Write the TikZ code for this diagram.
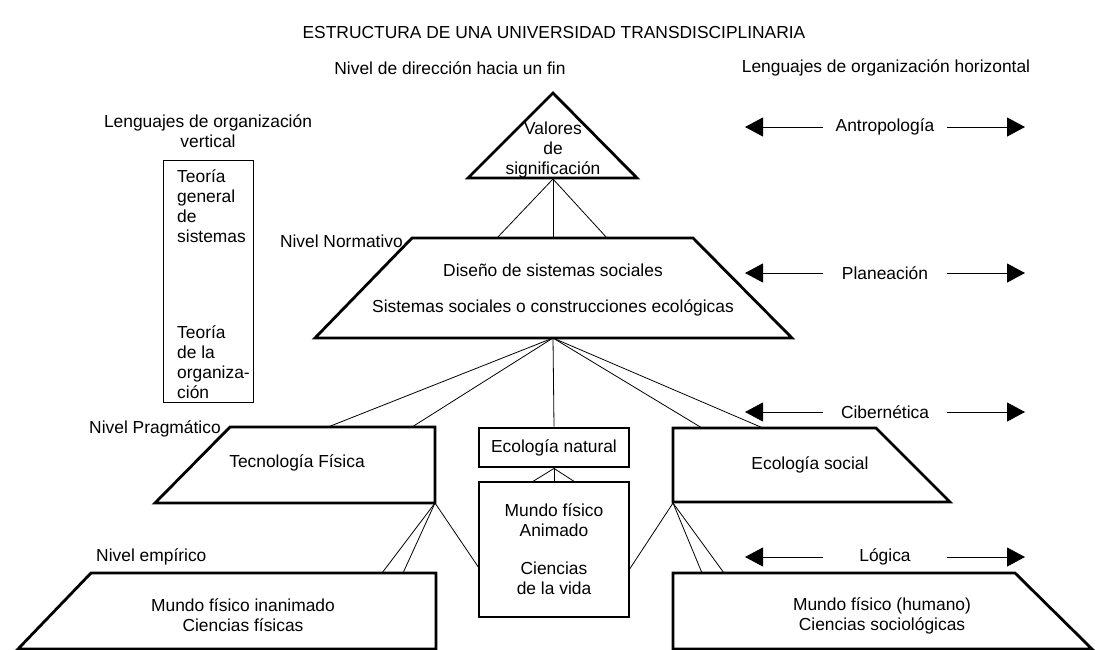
\documentclass[tikz,border=0pt]{standalone}
\usepackage{fontspec}
\setmainfont{Liberation Sans}
\usepackage{tikz}
\usetikzlibrary{arrows.meta,positioning}
\tikzset{
  lvl/.style={draw=black, line width=2.8pt, line join=miter},
  link/.style={draw=black, line width=0.8pt},
  txt/.style={inner sep=0pt, align=center, font=\fontsize{17.4}{20}\selectfont},
  txtl/.style={inner sep=0pt, align=left, font=\fontsize{17.4}{20}\selectfont},
  boxn/.style={rectangle, draw=black, line width=2.8pt, minimum width=150pt, inner sep=0pt, align=center, font=\fontsize{17.4}{20}\selectfont},
  vbox/.style={rectangle, draw=black, line width=0.9pt, minimum width=90pt, minimum height=242pt},
  lang/.style={draw=black, line width=1pt, -{Triangle[length=18pt,width=19pt]}},
}

\begin{document}
\begin{tikzpicture}[x=1pt,y=-1pt]
    \useasboundingbox (0,0) rectangle (1099,649);

    \node[txt] (title) at (554,33) {ESTRUCTURA DE UNA UNIVERSIDAD TRANSDISCIPLINARIA};
    \node[txt] (dir) at (450,68) {Nivel de dirección hacia un fin};
    \node[txt] (hor) at (886,68) {Lenguajes de organización horizontal};
    \node[txt] (ver) at (208,131) {Lenguajes de organización\\vertical};

    \node[vbox] (vert) at (208,281) {};
    \node[txtl,anchor=west] (tgs) at (177,206) {Teoría\\general\\de\\sistemas};
    \node[txtl,anchor=west] (torg) at (177,362) {Teoría\\de la\\organiza-\\ción};

    % nivel de direccion
    \draw[lvl] (553,93) -- (637,178) -- (468,178) -- cycle;
    \node[txt] (val) at (553,150) {Valores\\de\\significación};
    \coordinate (val-b) at (553,179);

    % nivel normativo
    \draw[lvl] (412,238) -- (693,238) -- (792,338) -- (315,338) -- cycle;
    \node[txt] (dis) at (553,270) {Diseño de sistemas sociales};
    \node[txt] (sis) at (553,308) {Sistemas sociales o construcciones ecológicas};
    \node[txt,anchor=east] (nnorm) at (403,241) {Nivel Normativo};
    \coordinate (norm-a) at (497,238);
    \coordinate (norm-b) at (553,238);
    \coordinate (norm-c) at (607,238);
    \coordinate (norm-s) at (553,338);

    % nivel pragmatico
    \draw[lvl] (230,427) -- (435,427) -- (435,503) -- (155,503) -- cycle;
    \node[txt] (tec) at (297,463) {Tecnología Física};
    \node[txt,anchor=west] (nprag) at (89,429) {Nivel Pragmático};
    \coordinate (tec-a) at (328,427);
    \coordinate (tec-b) at (412,427);
    \coordinate (tec-c) at (435,503);

    \node[boxn,minimum height=39pt] (econat) at (554,447.5) {Ecología natural};
    \node[boxn,minimum height=135pt] (anim) at (554,549.5) {Mundo físico\\Animado\\[18pt]Ciencias\\de la vida};
    \coordinate (anim-a) at (532,482);
    \coordinate (anim-c) at (575,482);
    \coordinate (anim-l) at (479,568);
    \coordinate (anim-r) at (629,570);

    \draw[lvl] (673,428) -- (876,428) -- (950,502) -- (673,502) -- cycle;
    \node[txt] (ecosoc) at (810,465) {Ecología social};
    \coordinate (soc-a) at (702,428);
    \coordinate (soc-b) at (763,428);
    \coordinate (soc-c) at (673,503);

    % nivel empirico
    \draw[lvl] (91,573) -- (436,573) -- (436,649) -- (18,649) -- cycle;
    \node[txt] (inan) at (243,615) {Mundo físico inanimado\\Ciencias físicas};
    \node[txt,anchor=west] (nemp) at (96,557) {Nivel empírico};
    \coordinate (inan-a) at (382,573);
    \coordinate (inan-b) at (403,573);

    \draw[lvl] (673,573) -- (1015,573) -- (1092,649) -- (673,649) -- cycle;
    \node[txt] (hum) at (882,616) {Mundo físico (humano)\\Ciencias sociológicas};
    \coordinate (hum-a) at (702,573);
    \coordinate (hum-b) at (724,573);

    \begin{scope}[every path/.style=link]
      \foreach \t in {norm-a,norm-b,norm-c} \path (val-b) -- (\t);
      \foreach \t in {tec-a,tec-b,econat.north,soc-a,soc-b} \path (norm-s) -- (\t);
      \foreach \t in {anim-a,anim.north,anim-c} \path (econat.south) -- (\t);
      \foreach \t in {inan-a,inan-b,anim-l} \path (tec-c) -- (\t);
      \foreach \t in {anim-r,hum-a,hum-b} \path (soc-c) -- (\t);
    \end{scope}

    \foreach \yy/\nm/\tx in {127/antro/Antropología, 273/plan/Planeación, 412/ciber/Cibernética, 557/logi/Lógica} {
      \node[txt] (\nm) at (885,\yy) {\tx};
      \coordinate (\nm-l) at (823,\yy);
      \coordinate (\nm-ll) at (745,\yy);
      \coordinate (\nm-r) at (947,\yy);
      \coordinate (\nm-rr) at (1025,\yy);
      \draw[lang] (\nm-l) -- (\nm-ll);
      \draw[lang] (\nm-r) -- (\nm-rr);
    }
\end{tikzpicture}
\end{document}
